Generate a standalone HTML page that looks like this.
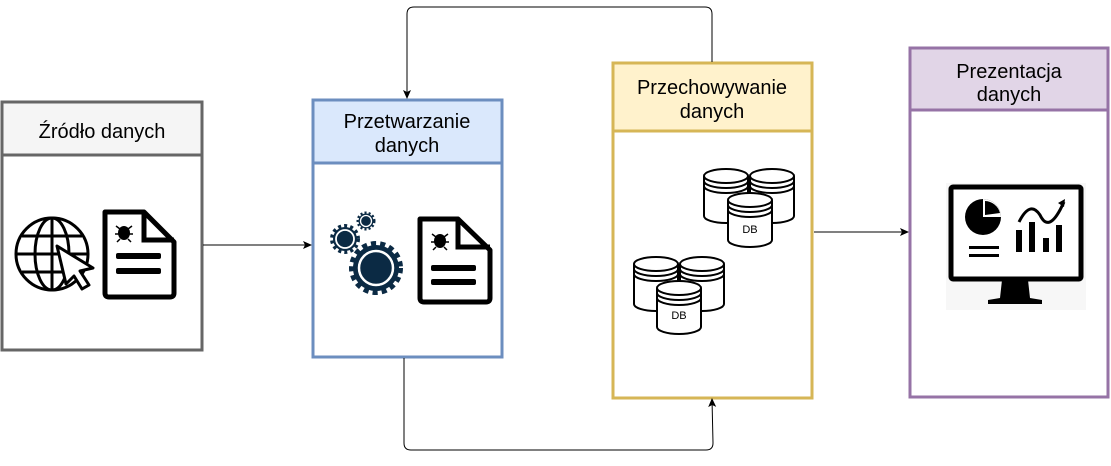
<!DOCTYPE html>
<html><head><meta charset="utf-8"><style>
body{margin:0;width:1111px;height:461px;background:#fff;overflow:hidden;font-family:"Liberation Sans",sans-serif}
</style></head><body>
<svg width="1111" height="461" viewBox="0 0 1111 461" xmlns="http://www.w3.org/2000/svg" font-family="Liberation Sans, sans-serif">
<defs>
<marker id="a" markerWidth="10" markerHeight="10" refX="8" refY="4" orient="auto" markerUnits="userSpaceOnUse"><path d="M0,0 L9,4 L0,8 L2,4 Z" fill="#000"/></marker>
</defs>
<rect x="2" y="102" width="200" height="248" fill="#fff" stroke="#666" stroke-width="3"/>
<rect x="2" y="102" width="200" height="53" fill="#f5f5f5" stroke="#666" stroke-width="3"/>
<text x="102" y="138" font-size="20" text-anchor="middle">Źródło danych</text>

<rect x="313" y="100" width="189" height="257" fill="#fff" stroke="#6c8ebf" stroke-width="3"/>
<rect x="313" y="100" width="189" height="63" fill="#dae8fc" stroke="#6c8ebf" stroke-width="3"/>
<text x="407" y="128" font-size="20" text-anchor="middle">Przetwarzanie</text>
<text x="407" y="152" font-size="20" text-anchor="middle">danych</text>

<rect x="613" y="63" width="199" height="335" fill="#fff" stroke="#d6b656" stroke-width="3"/>
<rect x="613" y="63" width="199" height="68" fill="#fff2cc" stroke="#d6b656" stroke-width="3"/>
<text x="712" y="94" font-size="20" text-anchor="middle">Przechowywanie</text>
<text x="712" y="118" font-size="20" text-anchor="middle">danych</text>

<rect x="910" y="48" width="198" height="349" fill="#fff" stroke="#9673a6" stroke-width="3"/>
<rect x="910" y="48" width="198" height="62" fill="#e1d5e7" stroke="#9673a6" stroke-width="3"/>
<text x="1009" y="78" font-size="20" text-anchor="middle">Prezentacja</text>
<text x="1009" y="101" font-size="20" text-anchor="middle">danych</text>

<line x1="203" y1="245" x2="311" y2="245" stroke="#000" stroke-width="1" marker-end="url(#a)"/>
<line x1="814" y1="232" x2="908" y2="232" stroke="#000" stroke-width="1" marker-end="url(#a)"/>
<path d="M712,62 V14 Q712,7 705,7 H414 Q407,7 407,14 V98" fill="none" stroke="#000" stroke-width="1" marker-end="url(#a)"/>
<path d="M404,358 V443 Q404,450 411,450 H706 Q713,450 713,443 L712,399" fill="none" stroke="#000" stroke-width="1" marker-end="url(#a)"/>

<g fill="none" stroke="#000" stroke-width="3">
<circle cx="52" cy="254" r="36"/>
<ellipse cx="52" cy="254" rx="17" ry="36"/>
<line x1="52" y1="218" x2="52" y2="290"/>
<line x1="16" y1="254" x2="88" y2="254"/>
<line x1="22" y1="236" x2="82" y2="236"/>
<line x1="22" y1="272" x2="82" y2="272"/>
</g>
<path d="M57,246 L93,268 L80,271 L89,285 L82,289 L74,276 L66,284 Z" fill="#fff" stroke="#000" stroke-width="3" stroke-linejoin="round"/>
<g>
<path d="M105,212 H144 L174,242 V293 Q174,297 170,297 H109 Q105,297 105,293 Z" fill="#fff" stroke="#000" stroke-width="5" stroke-linejoin="round"/>
<path d="M144,212 V240 H174" fill="none" stroke="#000" stroke-width="5"/>
<rect x="116" y="253" width="45" height="6" rx="2" fill="#000"/>
<rect x="116" y="268" width="45" height="6" rx="2" fill="#000"/>
<ellipse cx="124" cy="233" rx="6" ry="7" fill="#000"/>
<path d="M116,226 l4,3 M132,226 l-4,3 M115,234 h18 M117,242 l3,-3 M131,242 l-3,-3" stroke="#000" stroke-width="1.5"/>
</g>
<g>
<circle cx="376" cy="268" r="24" fill="none" stroke="#0b2a44" stroke-width="6" stroke-dasharray="5 4"/>
<circle cx="376" cy="268" r="23" fill="#0b2a44"/>
<circle cx="376" cy="268" r="17" fill="none" stroke="#fff" stroke-width="2.5"/>
<circle cx="345" cy="239" r="13" fill="none" stroke="#0b2a44" stroke-width="4" stroke-dasharray="3 3"/>
<circle cx="345" cy="239" r="12" fill="#0b2a44"/>
<circle cx="345" cy="239" r="9" fill="none" stroke="#fff" stroke-width="1.8"/>
<circle cx="366" cy="221" r="8" fill="none" stroke="#0b2a44" stroke-width="3" stroke-dasharray="2 2"/>
<circle cx="366" cy="221" r="7.5" fill="#0b2a44"/>
<circle cx="366" cy="221" r="5.5" fill="none" stroke="#fff" stroke-width="1.3"/>
</g>
<g>
<path d="M420,219 H458 L490,250 V298 Q490,302 486,302 H424 Q420,302 420,298 Z" fill="#fff" stroke="#000" stroke-width="5" stroke-linejoin="round"/>
<path d="M458,219 V247 H490" fill="none" stroke="#000" stroke-width="5"/>
<rect x="431" y="265" width="45" height="6" rx="2" fill="#000"/>
<rect x="431" y="279" width="45" height="6" rx="2" fill="#000"/>
<ellipse cx="440" cy="241" rx="6" ry="7" fill="#000"/>
<path d="M432,234 l4,3 M448,234 l-4,3 M431,242 h18 M433,250 l3,-3 M447,250 l-3,-3" stroke="#000" stroke-width="1.5"/>
</g>
<g fill="#fff" stroke="#000" stroke-width="2">
<path d="M704,176 V216 A22,7 0 0 0 748,216 V176"/>
<ellipse cx="726" cy="176" rx="22" ry="7"/><path d="M704,181 A22,7 0 0 0 748,181 M704,186 A22,7 0 0 0 748,186" fill="none"/>
<path d="M750,176 V216 A22,7 0 0 0 794,216 V176"/>
<ellipse cx="772" cy="176" rx="22" ry="7"/><path d="M750,181 A22,7 0 0 0 794,181 M750,186 A22,7 0 0 0 794,186" fill="none"/>
<path d="M728,200 V240 A22,7 0 0 0 772,240 V200"/>
<ellipse cx="750" cy="200" rx="22" ry="7"/><path d="M728,205 A22,7 0 0 0 772,205 M728,210 A22,7 0 0 0 772,210" fill="none"/>
</g>
<text x="750" y="233" font-size="11" text-anchor="middle">DB</text>
<g fill="#fff" stroke="#000" stroke-width="2">
<path d="M634,264 V304 A22,7 0 0 0 678,304 V264"/>
<ellipse cx="656" cy="264" rx="22" ry="7"/><path d="M634,269 A22,7 0 0 0 678,269 M634,274 A22,7 0 0 0 678,274" fill="none"/>
<path d="M680,264 V304 A22,7 0 0 0 724,304 V264"/>
<ellipse cx="702" cy="264" rx="22" ry="7"/><path d="M680,269 A22,7 0 0 0 724,269 M680,274 A22,7 0 0 0 724,274" fill="none"/>
<path d="M657,288 V327 A22,7 0 0 0 701,327 V288"/>
<ellipse cx="679" cy="288" rx="22" ry="7"/><path d="M657,293 A22,7 0 0 0 701,293 M657,298 A22,7 0 0 0 701,298" fill="none"/>
</g>
<text x="679" y="319" font-size="11" text-anchor="middle">DB</text>
<rect x="946" y="183" width="140" height="127" fill="#f7f7f7"/>
<rect x="951" y="187" width="130" height="92" rx="2" fill="#fff" stroke="#000" stroke-width="5"/>
<path d="M1002,280 L1000,298 L988,300 V304 H1042 V300 L1030,298 L1028,280 Z" fill="#000"/>
<circle cx="983" cy="217" r="18" fill="#000"/>
<path d="M983,217 L983,199 A18,18 0 0 1 1001,217 Z" fill="#fff"/>
<path d="M985,215 L985,201 A16,16 0 0 1 1000,213 Z" fill="#000"/>
<rect x="969" y="246" width="30" height="3" fill="#000"/>
<rect x="969" y="254" width="30" height="3" fill="#000"/>
<rect x="1016" y="230" width="6" height="22" fill="#000"/>
<rect x="1029" y="222" width="6" height="30" fill="#000"/>
<rect x="1043" y="238" width="6" height="14" fill="#000"/>
<rect x="1056" y="225" width="6" height="27" fill="#000"/>
<path d="M1019,222 Q1030,200 1040,215 Q1048,232 1060,210 L1064,202" fill="none" stroke="#000" stroke-width="3"/>
<path d="M1058,203 L1065,199 L1064,207" fill="#000"/>
</svg>
</body></html>
